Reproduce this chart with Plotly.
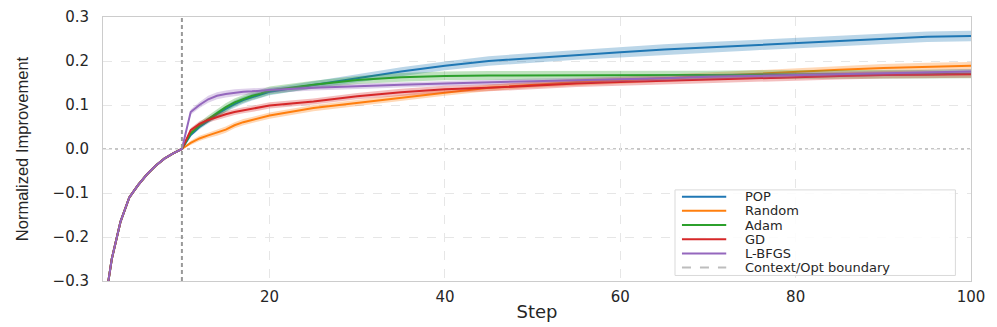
"""Normalized improvement vs step for POP and baseline optimizers."""

import plotly.graph_objects as go

# steps 1..10 are the shared context phase, optimisation starts after step 10
STEPS = list(range(1, 21)) + list(range(25, 101, 5))

CONTEXT_MEAN = [-0.38, -0.250, -0.165, -0.110, -0.082, -0.058, -0.038, -0.022, -0.010, 0.0]
CONTEXT_STD = [0.004, 0.004, 0.004, 0.004, 0.004, 0.003, 0.003, 0.002, 0.002, 0.0]

POP_MEAN = [0.032, 0.050, 0.064, 0.079, 0.091, 0.102, 0.111, 0.118, 0.124, 0.130,
            0.146, 0.161, 0.176, 0.189, 0.200, 0.207, 0.214, 0.220, 0.226, 0.231,
            0.236, 0.241, 0.246, 0.251, 0.255, 0.257]
POP_STD = [0.004, 0.005, 0.006, 0.007, 0.007, 0.008, 0.008, 0.008, 0.008, 0.008,
           0.008, 0.009, 0.010, 0.010, 0.011, 0.011, 0.011, 0.012, 0.012, 0.012,
           0.012, 0.012, 0.012, 0.012, 0.012, 0.012]

RANDOM_MEAN = [0.014, 0.024, 0.031, 0.037, 0.044, 0.054, 0.061, 0.066, 0.071, 0.076,
               0.093, 0.105, 0.117, 0.128, 0.139, 0.146, 0.152, 0.156, 0.161, 0.166,
               0.170, 0.175, 0.180, 0.184, 0.187, 0.189]
RANDOM_STD = [0.005, 0.006, 0.006, 0.007, 0.007, 0.007, 0.007, 0.007, 0.007, 0.007,
              0.007, 0.007, 0.007, 0.007, 0.007, 0.007, 0.008, 0.008, 0.008, 0.008,
              0.008, 0.009, 0.009, 0.009, 0.009, 0.009]

ADAM_MEAN = [0.036, 0.054, 0.068, 0.082, 0.095, 0.106, 0.114, 0.121, 0.126, 0.133,
             0.146, 0.157, 0.163, 0.166, 0.167, 0.167, 0.167, 0.168, 0.168, 0.168,
             0.169, 0.169, 0.169, 0.170, 0.170, 0.171]
ADAM_STD = [0.006, 0.007, 0.008, 0.009, 0.009, 0.009, 0.009, 0.009, 0.009, 0.009,
            0.009, 0.009, 0.010, 0.010, 0.010, 0.010, 0.010, 0.010, 0.010, 0.010,
            0.010, 0.010, 0.010, 0.010, 0.010, 0.010]

GD_MEAN = [0.043, 0.057, 0.066, 0.073, 0.079, 0.084, 0.088, 0.091, 0.095, 0.099,
           0.108, 0.120, 0.129, 0.136, 0.139, 0.144, 0.149, 0.152, 0.155, 0.158,
           0.161, 0.164, 0.166, 0.168, 0.169, 0.170]
GD_STD = [0.005, 0.006, 0.006, 0.007, 0.007, 0.007, 0.007, 0.007, 0.007, 0.007,
          0.007, 0.007, 0.008, 0.008, 0.008, 0.008, 0.008, 0.008, 0.008, 0.008,
          0.008, 0.008, 0.008, 0.008, 0.008, 0.008]

LBFGS_MEAN = [0.084, 0.100, 0.113, 0.121, 0.125, 0.128, 0.130, 0.131, 0.133, 0.134,
              0.139, 0.143, 0.146, 0.149, 0.152, 0.154, 0.156, 0.158, 0.161, 0.164,
              0.166, 0.168, 0.171, 0.173, 0.175, 0.176]
LBFGS_STD = [0.006, 0.007, 0.008, 0.008, 0.008, 0.008, 0.007, 0.007, 0.007, 0.007,
             0.006, 0.006, 0.006, 0.006, 0.006, 0.006, 0.006, 0.006, 0.006, 0.006,
             0.006, 0.006, 0.006, 0.006, 0.006, 0.006]

BOUNDARY_STEP = 10

SERIES = [
    ("POP", POP_MEAN, POP_STD, "31,119,180"),
    ("Random", RANDOM_MEAN, RANDOM_STD, "255,127,14"),
    ("Adam", ADAM_MEAN, ADAM_STD, "44,160,44"),
    ("GD", GD_MEAN, GD_STD, "214,39,40"),
    ("L-BFGS", LBFGS_MEAN, LBFGS_STD, "148,103,189"),
]

TICK_FONT = {"family": "DejaVu Sans, Liberation Sans, sans-serif", "size": 15, "color": "#262626"}
GRID = "#e6e6e6"
SPINE = "#cccccc"

fig = go.Figure()

for name, mean, std, rgb in SERIES:
    ys = CONTEXT_MEAN + mean
    sd = CONTEXT_STD + std
    lower = [m - s for m, s in zip(ys, sd)]
    upper = [m + s for m, s in zip(ys, sd)]
    fig.add_trace(go.Scatter(x=STEPS, y=lower, mode="lines", line={"width": 0},
                             showlegend=False, hoverinfo="skip"))
    fig.add_trace(go.Scatter(x=STEPS, y=upper, mode="lines", line={"width": 0},
                             fill="tonexty", fillcolor=f"rgba({rgb},0.3)",
                             showlegend=False, hoverinfo="skip"))
    fig.add_trace(go.Scatter(x=STEPS, y=ys, mode="lines", name=name,
                             line={"color": f"rgb({rgb})", "width": 2}, showlegend=False))

fig.add_hline(y=0, line={"color": "#8c8c8c", "width": 1.2, "dash": "dot"}, layer="below")
fig.add_vline(x=BOUNDARY_STEP, line={"color": "#999999", "width": 2, "dash": "4px,3px"})

# legend drawn by hand so the row spacing can match the original
legend_rows = [(name, f"rgb({rgb})") for name, _, _, rgb in SERIES]
legend_rows.append(("Context/Opt boundary", "#bdbdbd"))
fig.add_shape(type="rect", xref="paper", yref="paper", x0=0.659, x1=0.982, y0=0.021, y1=0.345,
              line={"color": "#d9d9d9", "width": 1}, fillcolor="rgba(255,255,255,0.85)",
              layer="above")
row_ys = [0.319, 0.266, 0.212, 0.158, 0.104, 0.051]
for (label, color), ry in zip(legend_rows, row_ys):
    dash = "dash" if label.startswith("Context") else "solid"
    fig.add_shape(type="line", xref="paper", yref="paper", x0=0.667, x1=0.718, y0=ry, y1=ry,
                  line={"color": color, "width": 2, "dash": dash}, layer="above")
    fig.add_annotation(x=0.737, y=ry, xref="paper", yref="paper", text=label,
                       showarrow=False, xanchor="left", yanchor="middle",
                       font={"family": "DejaVu Sans, sans-serif", "size": 13, "color": "#262626"})

fig.update_layout(
    width=997,
    height=327,
    margin={"l": 103, "r": 26, "t": 8, "b": 38, "pad": 0},
    plot_bgcolor="white",
    paper_bgcolor="white",
    showlegend=False,
    xaxis={
        "range": [1, 100],
        "tickvals": [20, 40, 60, 80, 100],
        "showgrid": True, "gridcolor": GRID, "griddash": "dash",
        "showline": True, "linecolor": SPINE, "linewidth": 1, "mirror": True,
        "zeroline": False, "ticks": "", "tickfont": TICK_FONT, "ticklabelstandoff": 2,
        "title": {"text": "Step", "standoff": 0,
                  "font": {"family": "DejaVu Sans, sans-serif", "size": 18, "color": "#262626"}},
    },
    yaxis={
        "range": [-0.3, 0.3],
        "dtick": 0.1,
        "tickformat": ".1f",
        "showgrid": True, "gridcolor": GRID, "griddash": "dash",
        "showline": True, "linecolor": SPINE, "linewidth": 1, "mirror": True,
        "zeroline": False, "ticks": "", "tickfont": TICK_FONT, "ticklabelstandoff": 10,
        "title": {"text": "Normalized Improvement", "standoff": 19,
                  "font": {"family": "Liberation Sans Narrow, Arial Narrow, Liberation Sans, sans-serif",
                           "size": 16.5, "color": "#262626"}},
    },
)

# the page body has a default margin; drop it so the figure sits at the window corner
fig.write_html("out.html", config={"displayModeBar": False},
               post_script="document.body.style.margin = '0';")
